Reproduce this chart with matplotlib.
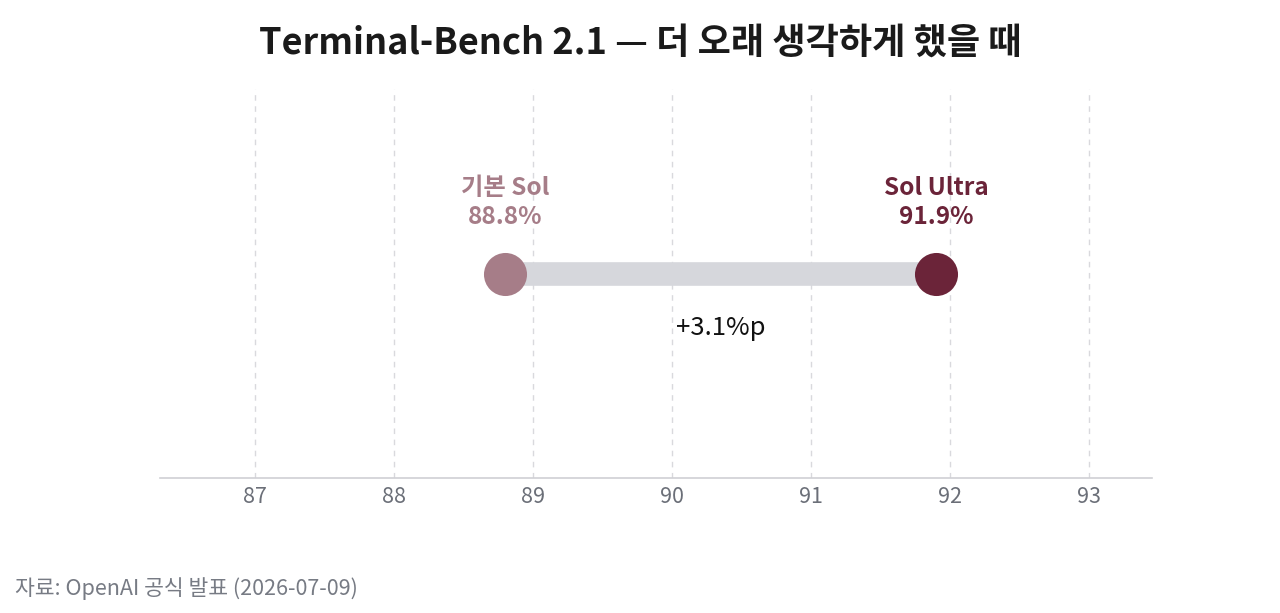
import matplotlib
matplotlib.use('Agg')
import matplotlib.pyplot as plt

plt.rcParams['font.family'] = ['Noto Sans CJK KR', 'DejaVu Sans']

# data
models = ['기본 Sol', 'Sol Ultra']
scores = [88.8, 91.9]
colors = ['#A67D88', '#6B2439']
ticks = [87, 88, 89, 90, 91, 92, 93]
title = 'Terminal-Bench 2.1 — 더 오래 생각하게 했을 때'
source = '자료: OpenAI 공식 발표 (2026-07-09)'

fig = plt.figure(figsize=(12.8, 6.13), dpi=100)
ax = fig.add_axes([0.125, 0.22, 0.775, 0.635])

ax.set_xlim(86.32, 93.45)
ax.set_ylim(-1.05, 0.95)

# connector
ax.plot(scores, [0, 0], color='#D6D7DC', linewidth=17, solid_capstyle='butt', zorder=2)
for s, c, name in zip(scores, colors, models):
    ax.plot([s], [0], 'o', markersize=31, color=c, markeredgewidth=0, zorder=3)
    ax.text(s, 0.23, f'{name}\n{s:.1f}%', ha='center', va='bottom', color=c,
            fontsize=17.5, fontweight='bold', linespacing=1.25)

diff = scores[1] - scores[0]
ax.text(sum(scores) / 2, -0.28, f'+{diff:.1f}%p', ha='center', va='center',
        fontsize=18.5, fontweight='medium', color='#111111')

ax.set_xticks(ticks)
ax.set_xticklabels([str(t) for t in ticks], fontsize=15.5, color='#6B6F78')
ax.tick_params(axis='x', length=0, pad=6)
ax.set_yticks([])
ax.grid(True, axis='x', linestyle='--', color='#D9D9DD', linewidth=1, dashes=(4, 4))
ax.set_axisbelow(True)
for sp in ['top', 'right', 'left']:
    ax.spines[sp].set_visible(False)
ax.spines['bottom'].set_color('#D0D0D4')
ax.spines['bottom'].set_linewidth(1.2)

fig.text(0.5, 0.93, title, ha='center', va='center', fontsize=26,
         fontweight='bold', color='#1A1A1A')
fig.text(0.012, 0.04, source, ha='left', va='center', fontsize=15.5, color='#777B84')

fig.savefig('out.png', dpi=100, facecolor='white')
